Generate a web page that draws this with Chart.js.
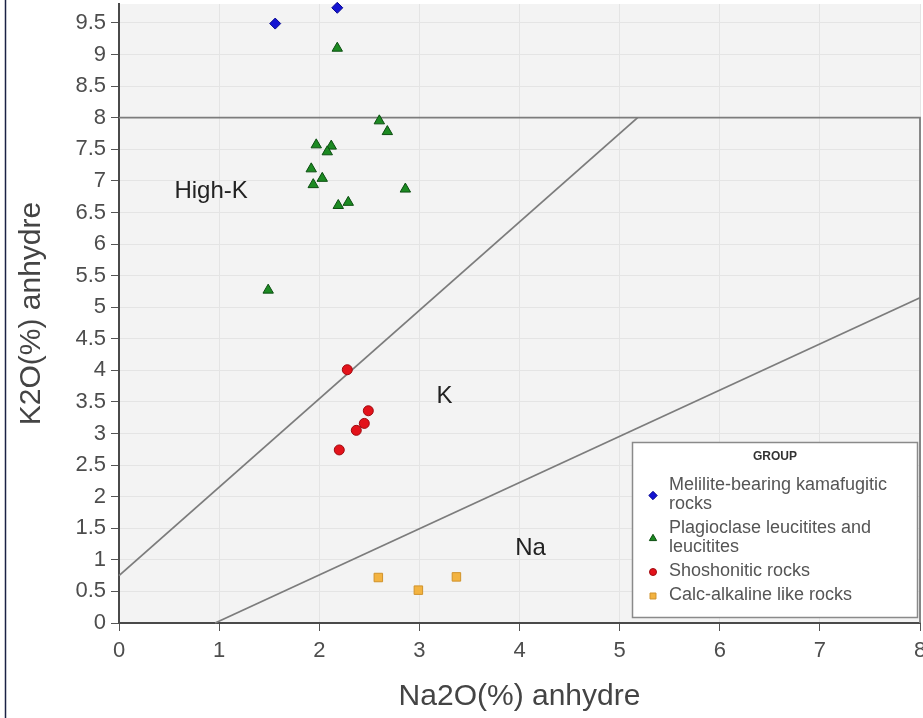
<!DOCTYPE html>
<html>
<head>
<meta charset="utf-8">
<script src="https://cdn.jsdelivr.net/npm/chart.js@4.4.1/dist/chart.umd.min.js"></script>
<style>
  html, body { margin: 0; padding: 0; background: #ffffff; }
  #wrap { width: 923px; height: 718px; position: relative; }
  canvas { display: block; }
</style>
</head>
<body>
<div id="wrap"><canvas id="c" width="923" height="718"></canvas></div>
<script>
// ---- Data ----
const meliliteNa = [1.56, 2.18];
const meliliteK  = [9.49, 9.74];

const plagioNa = [2.18, 2.60, 2.68, 1.97, 2.12, 2.08, 1.92, 2.03, 1.94, 2.19, 2.29, 2.86, 1.49];
const plagioK  = [9.10, 7.95, 7.78, 7.57, 7.55, 7.46, 7.19, 7.04, 6.94, 6.61, 6.66, 6.87, 5.27];

const shoshNa = [2.28, 2.49, 2.45, 2.37, 2.20];
const shoshK  = [4.01, 3.36, 3.16, 3.05, 2.74];

const calcNa = [2.59, 2.99, 3.37];
const calcK  = [0.72, 0.52, 0.73];

// Diagram boundary lines
const boxNa   = [0, 8, 8];
const boxK    = [8, 8, 0];
const upperNa = [0, 5.18];
const upperK  = [0.75, 8];
const lowerNa = [0.96, 8];
const lowerK  = [0, 5.15];

// Field labels
const regionNames = ['High-K', 'K', 'Na'];
const regionNa    = [0.92, 3.25, 4.11];
const regionK     = [6.84, 3.59, 1.18];

// Ticks
const xTicks = [0, 1, 2, 3, 4, 5, 6, 7, 8];
const yTicks = [0, 0.5, 1, 1.5, 2, 2.5, 3, 3.5, 4, 4.5, 5, 5.5, 6, 6.5, 7, 7.5, 8, 8.5, 9, 9.5];

const groupNames = ['Melilite-bearing kamafugitic rocks', 'Plagioclase leucitites and leucitites', 'Shoshonitic rocks', 'Calc-alkaline like rocks'];
const legendTitle = 'GROUP';
const xTitle = 'Na2O(%) anhydre';
const yTitle = 'K2O(%) anhydre';

const FONT = "'Liberation Sans', Arial, sans-serif";

const pts = (xs, ys) => xs.map((x, i) => ({ x: x, y: ys[i] }));

const pointSets = [
  { label: groupNames[0], data: pts(meliliteNa, meliliteK), pointStyle: 'rectRot', pointRadius: 5.5,
    backgroundColor: '#1414d2', borderColor: '#0a0a90', borderWidth: 1, order: 1, clip: false },
  { label: groupNames[1], data: pts(plagioNa, plagioK), pointStyle: 'triangle', pointRadius: 6,
    backgroundColor: '#1c8a22', borderColor: '#0b4d10', borderWidth: 1, order: 1, clip: false },
  { label: groupNames[2], data: pts(shoshNa, shoshK), pointStyle: 'circle', pointRadius: 5,
    backgroundColor: '#e3121a', borderColor: '#a00a10', borderWidth: 1, order: 1, clip: false },
  { label: groupNames[3], data: pts(calcNa, calcK), pointStyle: 'rect', pointRadius: 6,
    backgroundColor: '#f3b340', borderColor: '#d0922a', borderWidth: 1, order: 1, clip: false }
];

const lineSet = (xs, ys) => ({
  data: pts(xs, ys), showLine: true, pointRadius: 0, borderColor: '#7c7c7c',
  borderWidth: 1.8, backgroundColor: 'transparent', order: 2, clip: false
});

const decorPlugin = {
  id: 'decor',
  beforeDraw(chart) {
    const { ctx, chartArea: a } = chart;
    ctx.save();
    ctx.fillStyle = '#f3f3f3';
    ctx.fillRect(a.left, a.top, a.right - a.left, a.bottom - a.top);
    ctx.restore();
  },
  afterDatasetsDraw(chart) {
    const { ctx, scales } = chart;
    ctx.save();
    ctx.fillStyle = '#222';
    ctx.font = '24px ' + FONT;
    ctx.textAlign = 'center';
    ctx.textBaseline = 'middle';
    regionNames.forEach((t, i) => {
      ctx.fillText(t, scales.x.getPixelForValue(regionNa[i]), scales.y.getPixelForValue(regionK[i]));
    });
    ctx.restore();
  },
  afterDraw(chart) {
    const { ctx } = chart;
    ctx.save();
    // outer frame line on the left
    ctx.strokeStyle = '#1b2244';
    ctx.lineWidth = 1.5;
    ctx.beginPath();
    ctx.moveTo(5.5, 0);
    ctx.lineTo(5.5, 718);
    ctx.stroke();

    // legend box
    const bx = 632, by = 442, bw = 285, bh = 175;
    ctx.fillStyle = '#ffffff';
    ctx.fillRect(bx, by, bw, bh);
    ctx.strokeStyle = '#8a8a8a';
    ctx.lineWidth = 1.5;
    ctx.strokeRect(bx + 0.5, by + 0.5, bw, bh);

    ctx.fillStyle = '#333';
    ctx.font = 'bold 12px ' + FONT;
    ctx.textAlign = 'center';
    ctx.textBaseline = 'middle';
    ctx.fillText(legendTitle, bx + 143, 457);

    ctx.font = '18px ' + FONT;
    ctx.textAlign = 'left';
    const maxW = 236;
    const lineH = 19;
    let y = 485;
    chart.data.datasets.slice(0, groupNames.length).forEach((ds, i) => {
      const words = groupNames[i].split(' ');
      const lines = [];
      let cur = '';
      words.forEach(w => {
        const test = cur ? cur + ' ' + w : w;
        if (ctx.measureText(test).width > maxW && cur) { lines.push(cur); cur = w; }
        else cur = test;
      });
      if (cur) lines.push(cur);
      const midY = y + (lines.length - 1) * lineH / 2 + 1;
      ctx.fillStyle = ds.backgroundColor;
      ctx.strokeStyle = ds.borderColor;
      ctx.lineWidth = 1;
      Chart.helpers.drawPoint(ctx, {
        pointStyle: ds.pointStyle, radius: ds.pointStyle === 'circle' ? 3.5 : 4.2,
        borderWidth: 1, rotation: 0
      }, 653, midY);
      ctx.fillStyle = '#555';
      lines.forEach((ln, j) => ctx.fillText(ln, 669, y + j * lineH));
      y += (lines.length - 1) * lineH + 24;
    });
    ctx.restore();
  }
};

const chart = new Chart(document.getElementById('c'), {
  type: 'scatter',
  data: {
    datasets: [
      ...pointSets,
      lineSet(boxNa, boxK),
      lineSet(upperNa, upperK),
      lineSet(lowerNa, lowerK)
    ]
  },
  options: {
    responsive: false,
    animation: false,
    devicePixelRatio: 1,
    layout: { padding: { left: 0, right: 3, top: 4, bottom: 0 }, autoPadding: false },
    plugins: { legend: { display: false }, tooltip: { enabled: false } },
    scales: {
      x: {
        type: 'linear', min: 0, max: 8,
        afterBuildTicks: s => { s.ticks = xTicks.map(v => ({ value: v })); },
        afterFit: s => { s.height = 95; s.paddingLeft = 0; s.paddingRight = 0; },
        grid: { color: '#e4e4e4', tickColor: '#555', tickLength: 8, lineWidth: 1 },
        border: { color: '#4a4a4a', width: 2 },
        ticks: { font: { family: FONT, size: 22 }, color: '#4d4d4d', padding: 7, maxRotation: 0, autoSkip: false,
                 callback: v => String(v) },
        title: { display: true, text: xTitle, font: { family: FONT, size: 30 }, color: '#444', padding: { top: 0, bottom: 3 } }
      },
      y: {
        type: 'linear', min: 0, max: 9.8,
        afterBuildTicks: s => { s.ticks = yTicks.map(v => ({ value: v })); },
        afterFit: s => { s.width = 119; s.paddingTop = 0; s.paddingBottom = 0; },
        grid: { color: '#e4e4e4', tickColor: '#555', tickLength: 8, lineWidth: 1 },
        border: { color: '#4a4a4a', width: 2 },
        ticks: { font: { family: FONT, size: 22 }, color: '#4d4d4d', padding: 5, autoSkip: false,
                 callback: v => String(v) },
        title: { display: true, text: yTitle, font: { family: FONT, size: 30 }, color: '#444', padding: { top: 14, bottom: 0 } }
      }
    }
  },
  plugins: [decorPlugin]
});
</script>
</body>
</html>
